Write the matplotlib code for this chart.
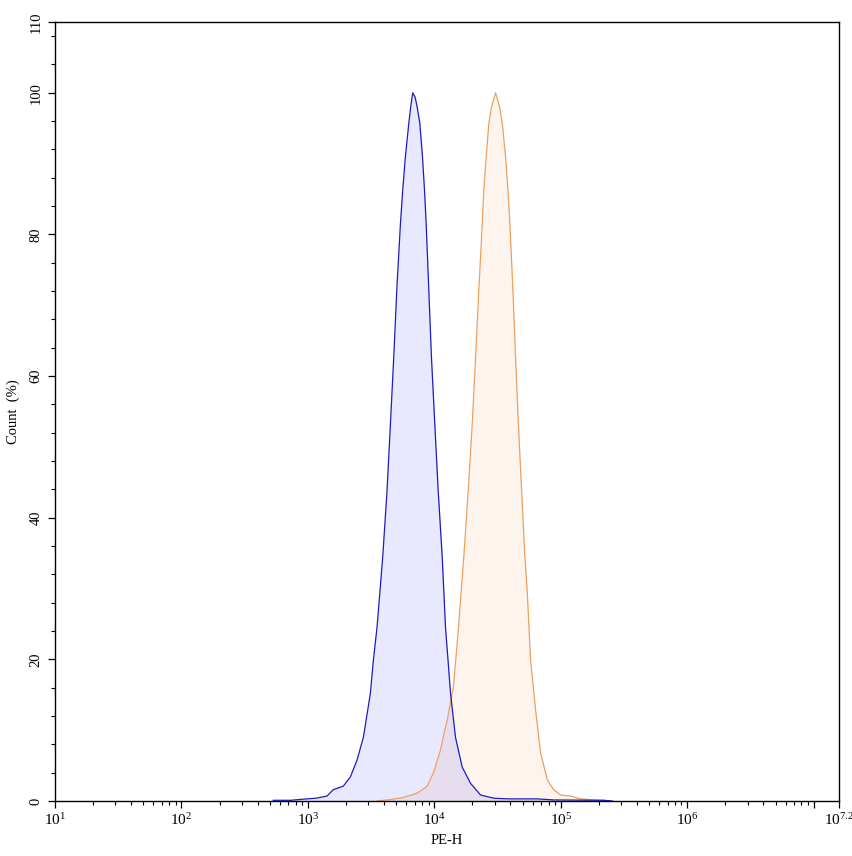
import numpy as np
import matplotlib
matplotlib.use("Agg")
import matplotlib.pyplot as plt
from matplotlib.ticker import FixedLocator, MultipleLocator, NullFormatter

plt.rcParams["font.family"] = ["Liberation Serif", "DejaVu Serif"]
plt.rcParams["mathtext.fontset"] = "custom"
plt.rcParams["mathtext.rm"] = "Liberation Serif"
plt.rcParams["mathtext.it"] = "Liberation Serif:italic"

# control histogram (blue), PE-H given as log10 of the channel value
blue_log = [2.726, 2.861, 2.995, 3.067, 3.151, 3.201, 3.280, 3.336, 3.389,
            3.439, 3.494, 3.518, 3.547, 3.592, 3.626, 3.653, 3.679, 3.703,
            3.732, 3.750, 3.771, 3.798, 3.813, 3.829, 3.848, 3.864, 3.885,
            3.906, 3.922, 3.935, 3.956, 3.977, 4.003, 4.030, 4.062, 4.088,
            4.128, 4.167, 4.220, 4.286, 4.365, 4.468, 4.577, 4.814, 4.943,
            5.339, 5.410]
blue_count = [0.1, 0.1, 0.3, 0.4, 0.7, 1.6, 2.1, 3.4, 5.8,
              9.0, 15.2, 19.9, 24.6, 34.5, 43.9, 53.4, 62.7, 72.2,
              81.6, 86.3, 91.0, 95.7, 98.0, 100.0, 99.4, 98.0, 95.7,
              91.0, 86.3, 81.6, 72.2, 62.7, 53.4, 43.9, 34.5, 24.6,
              15.2, 9.0, 4.8, 2.5, 0.85, 0.4, 0.3, 0.3, 0.15,
              0.1, 0.0]

# stained histogram (orange)
orange_log = [3.547, 3.653, 3.756, 3.864, 3.943, 3.993, 4.049, 4.072, 4.102,
              4.128, 4.151, 4.191, 4.233, 4.268, 4.300, 4.326, 4.352, 4.379,
              4.391, 4.410, 4.431, 4.452, 4.484, 4.516, 4.537, 4.563, 4.582,
              4.597, 4.621, 4.642, 4.664, 4.690, 4.716, 4.735, 4.761, 4.801,
              4.840, 4.893, 4.943, 4.999, 5.078, 5.157, 5.260, 5.339, 5.390]
orange_count = [0.0, 0.2, 0.5, 1.1, 2.1, 4.0, 7.2, 9.2, 11.4,
                14.0, 16.1, 24.5, 34.5, 43.9, 53.4, 62.7, 72.2, 81.6,
                86.3, 91.0, 95.7, 98.0, 100.0, 98.0, 95.7, 91.0, 86.3,
                81.6, 72.2, 62.7, 53.4, 43.9, 34.5, 29.4, 19.9, 12.8,
                6.8, 3.0, 1.6, 0.85, 0.7, 0.3, 0.15, 0.1, 0.0]

x_major = [1e1, 1e2, 1e3, 1e4, 1e5, 1e6, 10 ** 7.2]
x_major_labels = ["$10^{1}$", "$10^{2}$", "$10^{3}$", "$10^{4}$", "$10^{5}$",
                  "$10^{6}$", "$10^{7.2}$"]
y_major = [0, 20, 40, 60, 80, 100, 110]

blue_pe = np.power(10.0, blue_log)
orange_pe = np.power(10.0, orange_log)

fig = plt.figure(figsize=(8.53, 8.56), dpi=100)
ax = fig.add_axes([55 / 853, 55 / 856, 784 / 853, 779 / 856])

ax.fill_between(orange_pe, orange_count, 0, color=(0.96, 0.63, 0.31), alpha=0.1, lw=0)
ax.plot(orange_pe, orange_count, color="#eda060", lw=0.9)
ax.fill_between(blue_pe, blue_count, 0, color=(0.0, 0.0, 1.0), alpha=0.09, lw=0)
ax.plot(blue_pe, blue_count, color="#1c1cc0", lw=0.9)

ax.set_xscale("log")
ax.set_xlim(1e1, 10 ** 7.2)
ax.set_ylim(0, 110)

ax.xaxis.set_major_locator(FixedLocator(x_major + [1e7]))
ax.set_xticklabels(x_major_labels + [""])
minors = [m * 10 ** d for d in range(1, 7) for m in range(2, 10)]
ax.xaxis.set_minor_locator(FixedLocator(minors))
ax.xaxis.set_minor_formatter(NullFormatter())

ax.yaxis.set_major_locator(FixedLocator(y_major))
ax.yaxis.set_minor_locator(MultipleLocator(4))
for lab in ax.get_yticklabels():
    lab.set_rotation(90)
    lab.set_va("center")

ax.tick_params(which="major", length=5, width=0.9, labelsize=11, pad=3)
ax.tick_params(which="minor", length=3, width=0.8)
ax.tick_params(axis="y", labelsize=10.5, pad=4)
for s in ax.spines.values():
    s.set_linewidth(1.0)

ax.set_xlabel("PE-H", fontsize=10.5)
ax.xaxis.set_label_coords(0.5, -0.043)
ax.set_ylabel("Count  (%)", fontsize=10.5)
ax.yaxis.set_label_coords(-0.0446, 0.5)

fig.savefig("out.png", dpi=100)
